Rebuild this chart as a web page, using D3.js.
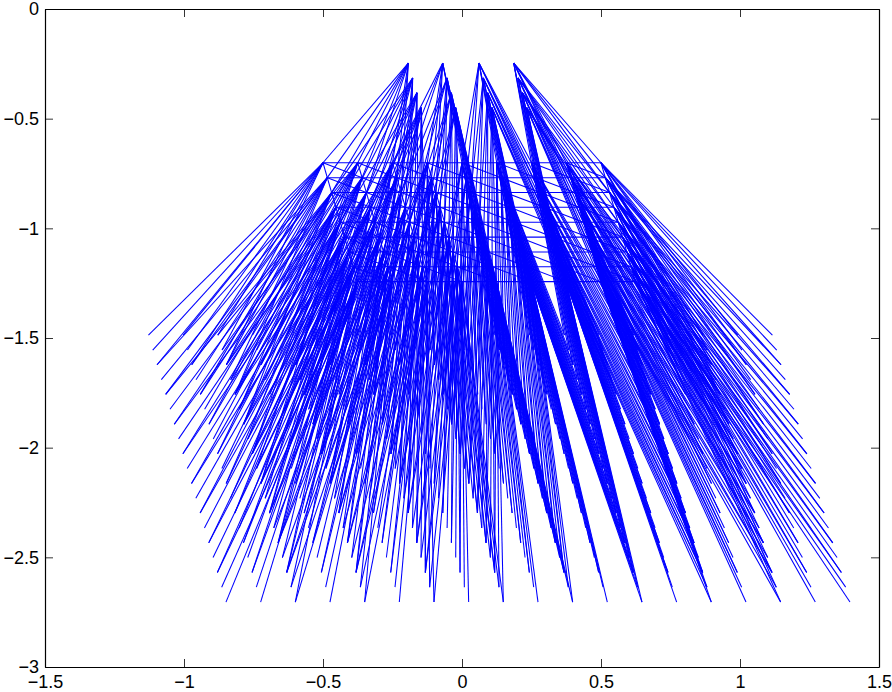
<!DOCTYPE html>
<html>
<head>
<meta charset="utf-8">
<script src="https://cdnjs.cloudflare.com/ajax/libs/d3/7.8.5/d3.min.js"></script>
<style>
html,body{margin:0;padding:0;background:#fff;}
svg{display:block;}
text{font-family:"Liberation Sans",Arial,sans-serif;fill:#000;}
</style>
</head>
<body>
<svg id="chart" width="892" height="692"></svg>
<script>
const xTicks = [-1.5,-1,-0.5,0,0.5,1,1.5];
const yTicks = [0,-0.5,-1,-1.5,-2,-2.5,-3];

const topColX = [-0.193,-0.0694,0.061,0.186];
const topRowY = [-0.2466,-0.3144,-0.3822,-0.45];
const topRowShift = [0,0.0155,0.031,0.0465];

const midColX = [-0.5,-0.375,-0.25,-0.125,0,0.125,0.25,0.375,0.5];
const midRowY = [-0.701,-0.769,-0.837,-0.904,-0.972,-1.04,-1.108,-1.175,-1.243];
const midRowShift = [0,0.0155,0.031,0.0465,0.062,0.0775,0.093,0.1085,0.124];

const botColX = [-1.128,-1.0033,-0.8786,-0.7539,-0.6292,-0.5045,-0.3798,-0.2551,-0.1304,-0.0057,0.119,0.2437,0.3684,0.4931,0.6178,0.7425,0.8672,0.9919,1.1166];
const botRowY = [-1.487,-1.555,-1.622,-1.69,-1.757,-1.825,-1.893,-1.96,-2.028,-2.095,-2.163,-2.231,-2.298,-2.366,-2.434,-2.501,-2.569,-2.636,-2.704];
const botRowShift = [0,0.0155,0.031,0.0465,0.062,0.0775,0.093,0.1085,0.124,0.1395,0.155,0.1705,0.186,0.2015,0.217,0.2325,0.248,0.2635,0.279];

const filterOffsets = [0,1,2];
const stride = 2;

const x = d3.scaleLinear().domain([-1.5,1.5]).range([45,879]);
const y = d3.scaleLinear().domain([-3,0]).range([667,9]);

const svg = d3.select("#chart");

const node = (cols, rows, shifts, r, c) => ({x: cols[c] + shifts[r], y: rows[r]});
const topNode = (r,c) => node(topColX, topRowY, topRowShift, r, c);
const midNode = (r,c) => node(midColX, midRowY, midRowShift, r, c);
const botNode = (r,c) => node(botColX, botRowY, botRowShift, r, c);

const edges = [];
topRowY.forEach((_,r)=>topColX.forEach((_,c)=>{
  filterOffsets.forEach(a=>filterOffsets.forEach(b=>{
    edges.push([topNode(r,c), midNode(stride*r+a, stride*c+b)]);
  }));
}));
midRowY.forEach((_,r)=>midColX.forEach((_,c)=>{
  filterOffsets.forEach(a=>filterOffsets.forEach(b=>{
    edges.push([midNode(r,c), botNode(stride*r+a, stride*c+b)]);
  }));
}));
midRowY.forEach((_,r)=>midColX.forEach((_,c)=>{
  if(c+1<midColX.length) edges.push([midNode(r,c), midNode(r,c+1)]);
  if(r+1<midRowY.length) edges.push([midNode(r,c), midNode(r+1,c)]);
  if(r+1<midRowY.length && c+1<midColX.length) edges.push([midNode(r,c), midNode(r+1,c+1)]);
}));

svg.append("g").selectAll("line").data(edges).join("line")
  .attr("x1",d=>x(d[0].x)).attr("y1",d=>y(d[0].y))
  .attr("x2",d=>x(d[1].x)).attr("y2",d=>y(d[1].y))
  .attr("stroke","#0000ff").attr("stroke-width",1.05);

const fmt = v => String(v).replace("-","\u2212");
const style = g => {
  g.selectAll("path").attr("stroke","#000").attr("stroke-width",1.2);
  g.selectAll("line").attr("stroke","#000").attr("stroke-width",0.8);
  g.selectAll("text").attr("font-size",18).attr("font-family",'"Liberation Sans",Arial,sans-serif');
};
const xAxisG = svg.append("g").attr("transform","translate(0,667)")
  .call(d3.axisBottom(x).tickValues(xTicks).tickFormat(fmt).tickSizeInner(-8).tickSizeOuter(0).tickPadding(0))
  .call(style);
xAxisG.selectAll("text").attr("dy",null).attr("y",21);
svg.append("g").attr("transform","translate(45,0)")
  .call(d3.axisLeft(y).tickValues(yTicks).tickFormat(fmt).tickSizeInner(-8).tickSizeOuter(0).tickPadding(6))
  .call(style);
svg.append("g").attr("transform","translate(0,9)")
  .call(d3.axisTop(x).tickValues(xTicks).tickFormat("").tickSizeInner(-8).tickSizeOuter(0))
  .call(style);
svg.append("g").attr("transform","translate(879,0)")
  .call(d3.axisRight(y).tickValues(yTicks).tickFormat("").tickSizeInner(-8).tickSizeOuter(0))
  .call(style);
</script>
</body>
</html>
